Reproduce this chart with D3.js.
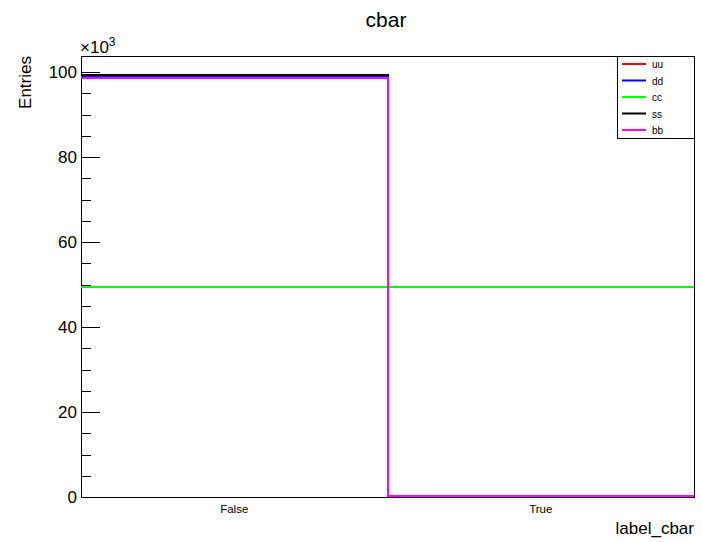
<!DOCTYPE html>
<html><head><meta charset="utf-8">
<script src="https://cdn.jsdelivr.net/npm/d3@7"></script>
<style>body{margin:0;background:#fff}text{font-family:"Liberation Sans",Arial,Helvetica,sans-serif}</style>
</head><body>
<svg id="c" width="702" height="542"></svg>
<script>
const categories = ["False", "True"];
const seriesNames = ["uu", "dd", "cc", "ss", "bb"];
const seriesColors = ["#ff0000", "#0000ff", "#00ff00", "#000000", "#ff00ff"];
const uu = [98600, 0];
const dd = [99000, 0];
const cc = [49500, 49500];
const ss = [99300, 0];
const bb = [98600, 0];
const yTicks = [0, 20000, 40000, 60000, 80000, 100000];
const yMax = 103800;

const series = [uu, dd, cc, ss, bb];
const svg = d3.select("#c");
const L = 81, R = 694, T = 56, B = 497;
const x = d3.scaleBand().domain(categories).range([L, R]).paddingInner(0).paddingOuter(0);
const y = d3.scaleLinear().domain([0, yMax]).range([B, T]);

svg.append("rect").attr("width", 702).attr("height", 542).attr("fill", "#fff");

// title
svg.append("text").attr("x", 386).attr("y", 27).attr("text-anchor", "middle")
  .attr("font-size", 21).text("cbar");

// y axis ticks
const minorTicks = d3.range(0, yMax, 5000).filter(v => v % 20000 !== 0);
svg.append("g").selectAll("line.mi").data(minorTicks).join("line")
  .attr("x1", L).attr("x2", L + 10).attr("y1", d => Math.round(y(d)) + 0.5).attr("y2", d => Math.round(y(d)) + 0.5)
  .attr("stroke", "#000").attr("stroke-width", 1);
svg.append("g").selectAll("line.ma").data(yTicks).join("line")
  .attr("x1", L).attr("x2", L + 19).attr("y1", d => Math.round(y(d)) + 0.5).attr("y2", d => Math.round(y(d)) + 0.5)
  .attr("stroke", "#000").attr("stroke-width", 1);
svg.append("g").selectAll("text").data(yTicks).join("text")
  .attr("x", L - 4).attr("y", d => y(d) + 6).attr("text-anchor", "end")
  .attr("font-size", 17).text(d => d / 1000);
const mult = svg.append("text").attr("x", 80).attr("y", 53).attr("font-size", 17);
mult.append("tspan").text("\u00d710");
mult.append("tspan").attr("dy", -7).attr("font-size", 12).text("3");

// y title
svg.append("text").attr("transform", `translate(31,${T}) rotate(-90)`).attr("text-anchor", "end")
  .attr("font-size", 17).text("Entries");

// x labels
svg.append("g").selectAll("text").data(categories).join("text")
  .attr("x", d => x(d) + x.bandwidth() / 2).attr("y", 513).attr("text-anchor", "middle")
  .attr("font-size", 11.5).text(d => d);
svg.append("text").attr("x", R).attr("y", 534).attr("text-anchor", "end")
  .attr("font-size", 17).text("label_cbar");

// frame
svg.append("rect").attr("x", L + 0.5).attr("y", T + 0.5).attr("width", R - L).attr("height", B - T)
  .attr("fill", "none").attr("stroke", "#000").attr("stroke-width", 1);

// histograms
series.forEach((vals, i) => {
  const pts = [];
  categories.forEach((c, j) => {
    const yy = Math.min(Math.round(y(vals[j])), B - 1);
    pts.push([Math.round(x(c)), yy]);
    pts.push([Math.round(x(c) + x.bandwidth()), yy]);
  });
  svg.append("path").attr("d", d3.line()(pts)).attr("fill", "none")
    .attr("stroke", seriesColors[i]).attr("stroke-width", 2);
});

// legend
const lg = svg.append("g");
lg.append("rect").attr("x", 617.5).attr("y", T + 0.5).attr("width", R - 617).attr("height", 138 - T)
  .attr("fill", "#fff").attr("stroke", "#000").attr("stroke-width", 1);
const ly = d3.scalePoint().domain(seriesNames).range([64, 130]);
seriesNames.forEach((n, i) => {
  lg.append("line").attr("x1", 622).attr("x2", 646).attr("y1", ly(n)).attr("y2", ly(n))
    .attr("stroke", seriesColors[i]).attr("stroke-width", 2);
  lg.append("text").attr("x", 652).attr("y", ly(n) + 4).attr("font-size", 10).text(n);
});
</script>
</body></html>
